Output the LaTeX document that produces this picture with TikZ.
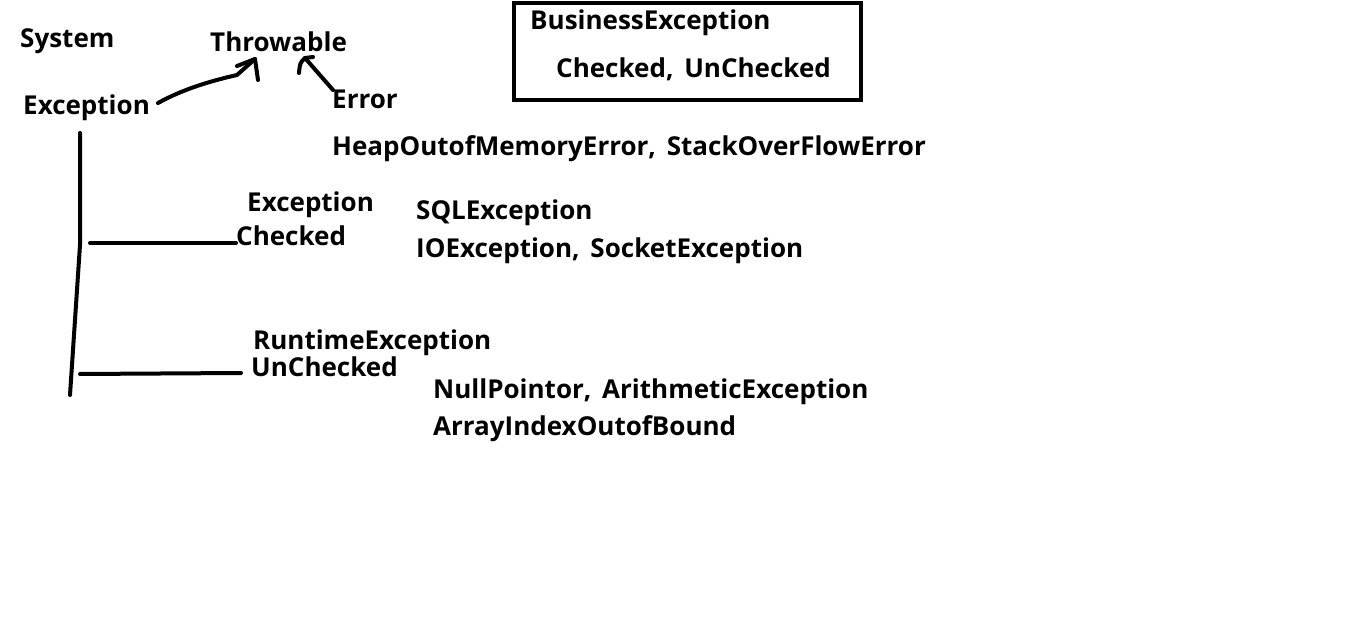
\documentclass[tikz,border=0pt]{standalone}
\usepackage{fontspec}
\setmainfont{Open Sans}[WordSpace=1.6]
\begin{document}
\begin{tikzpicture}[x=1pt,y=-1pt,
  lbl/.style={anchor=base west,inner sep=0pt,font=\bfseries\fontsize{26}{30}\selectfont},
  pen/.style={line width=4pt,line cap=round,line join=round}]
\useasboundingbox (0,0) rectangle (1357,636);
\node[lbl] (system) at (20,48) {System};
\node[lbl] (throw) at (210,52) {Throwable};
\node[lbl] (excA) at (23,115) {Exception};
\node[lbl] (error) at (332,109) {Error};
\node[lbl] (heap) at (332,156) {HeapOutofMemoryError, StackOverFlowError};
\node[lbl] (excB) at (247,212) {Exception};
\node[lbl] (checked) at (236,246) {Checked};
\node[lbl] (sql) at (416,220) {SQLException};
\node[lbl] (io) at (416,258) {IOException, SocketException};
\node[lbl] (rt) at (253,349) {RuntimeException};
\node[lbl] (unchecked) at (251,376) {UnChecked};
\node[lbl] (npe) at (433,398) {NullPointor, ArithmeticException};
\node[lbl] (aio) at (433,435) {ArrayIndexOutofBound};
\node[lbl] (biz) at (530,30) {BusinessException};
\node[lbl] (bizcu) at (556,78) {Checked, UnChecked};
\draw[line width=4pt] (514,3) rectangle (861,100);
% Exception -> Throwable
\coordinate (a1s) at (158,103);
\coordinate (a1t) at (255,59);
\draw[pen] (a1s) .. controls (185,88) and (215,80) .. (237,75) -- (a1t);
\draw[pen] (237,66) -- (a1t) -- (258,80);
% Error -> Throwable
\coordinate (a2s) at (333,90);
\coordinate (a2t) at (305,58);
\draw[pen] (a2s) -- (a2t);
\draw[pen] (299,73) .. controls (300,63) .. (a2t) -- (313,57);
% hierarchy lines
\coordinate (v1) at (80,133);
\coordinate (v2) at (80,245);
\coordinate (v3) at (70,395);
\draw[pen] (v1) -- (v2) -- (v3);
\draw[pen] (90,243) -- (checked.west |- 0,243);
\draw[pen] (80,374) -- (241,373);
\end{tikzpicture}
\end{document}
